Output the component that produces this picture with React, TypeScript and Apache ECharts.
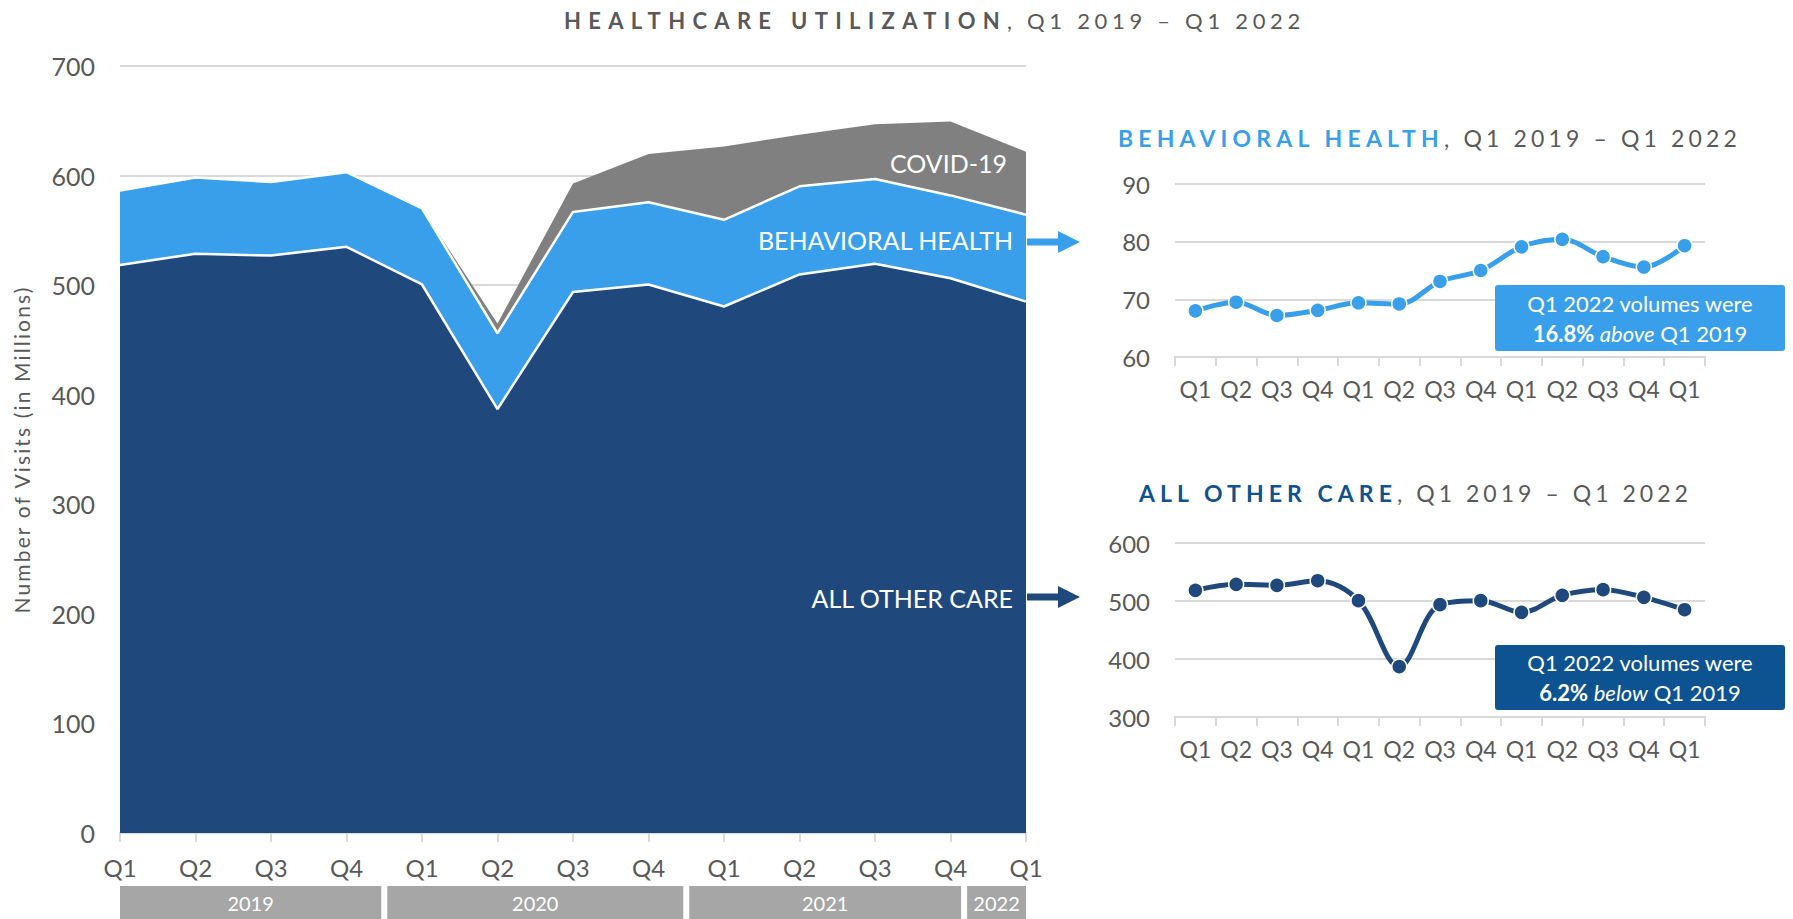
import React, { useEffect, useRef } from 'react';
import * as echarts from 'echarts';

const quarters = ['Q1', 'Q2', 'Q3', 'Q4', 'Q1', 'Q2', 'Q3', 'Q4', 'Q1', 'Q2', 'Q3', 'Q4', 'Q1'];
const years = ['2019', '2020', '2021', '2022'];
const yearSpans = [[0, 3.5], [3.5, 7.5], [7.5, 11.18], [11.18, 12]];
const allOtherCare = [518.4, 528.7, 527, 535, 500.6, 386.9, 493.7, 500.6, 480.5, 509.8, 519.5, 506.3, 485];
const behavioralHealth = [68.0, 69.5, 67.2, 68.1, 69.4, 69.2, 73.1, 75.0, 79.1, 80.4, 77.4, 75.6, 79.3];
const covid19 = [0, 0, 0, 0, 0, 9, 26, 44, 67, 47, 50, 67.5, 57.5];

const FONT = 'Lato, "Open Sans", sans-serif';
const GRAY_TEXT = '#595959';
const GRID_LINE = '#d9d9d9';
const NAVY = '#1f497d';
const LIGHT_BLUE = '#3a9fea';
const COVID_GRAY = '#808080';
const DARK_CALLOUT = '#0d5391';
const TITLE_BLUE_DARK = '#0f5290';
const PERIOD = ', Q1 2019 – Q1 2022';
const Y_NAME = 'Number of Visits (in Millions)';

const W = 1793;
const H = 919;
const MAIN = { left: 120, top: 66, width: 906, height: 767 };
const BH = { left: 1175, top: 184, width: 530, height: 173 };
const OC = { left: 1175, top: 543, width: 530, height: 174 };

// title pieces: text, left x, target width (tracked type)
const TITLE_PARTS = [
  { text: 'HEALTHCARE UTILIZATION', x: 564, w: 443, y: 20, size: 22, bold: true, color: GRAY_TEXT },
  { text: PERIOD, x: 1007, w: 298, y: 20, size: 22, bold: false, color: GRAY_TEXT },
  { text: 'BEHAVIORAL HEALTH', x: 1118, w: 326, y: 138, size: 23, bold: true, color: LIGHT_BLUE },
  { text: PERIOD, x: 1444, w: 297, y: 138, size: 23, bold: false, color: GRAY_TEXT },
  { text: 'ALL OTHER CARE', x: 1139, w: 258, y: 493, size: 23, bold: true, color: TITLE_BLUE_DARK },
  { text: PERIOD, x: 1397, w: 295, y: 493, size: 23, bold: false, color: GRAY_TEXT },
];

function arrow(x0: number, y: number, color: string) {
  const shaftEnd = x0 + 31;
  const tip = x0 + 53;
  return {
    type: 'polygon',
    z: 100,
    shape: {
      points: [
        [x0, y - 3.5], [shaftEnd, y - 3.5], [shaftEnd, y - 11], [tip, y],
        [shaftEnd, y + 11], [shaftEnd, y + 3.5], [x0, y + 3.5],
      ],
    },
    style: { fill: color },
  };
}

function callout(x: number, y: number, w: number, h: number, color: string, pct: string, dir: string) {
  const fs = 22;
  const lh = 30;
  return [
    { type: 'rect', z: 100, shape: { x, y, width: w, height: h, r: 3 }, style: { fill: color } },
    {
      type: 'text', z: 101, x: x + w / 2, y: y + h / 2,
      style: {
        text: 'Q1 2022 volumes were\n{b|' + pct + '} {i|' + dir + '} {n|Q1 2019}',
        fill: '#fff', fontSize: fs, fontFamily: FONT, align: 'center', verticalAlign: 'middle', lineHeight: lh,
        rich: {
          b: { fill: '#fff', fontSize: fs, fontFamily: FONT, fontWeight: 'bold', lineHeight: lh },
          i: { fill: '#fff', fontSize: fs, fontFamily: FONT, fontStyle: 'italic', lineHeight: lh },
          n: { fill: '#fff', fontSize: fs, fontFamily: FONT, lineHeight: lh },
        },
      },
    },
  ];
}

export default function App() {
  const ref = useRef<HTMLDivElement>(null);
  useEffect(() => {
    if (!ref.current) return;
    const chart = echarts.init(ref.current, undefined, { renderer: 'svg' });
    const step = MAIN.width / (quarters.length - 1);

    const yearGraphics: any[] = [];
    years.forEach((yr, i) => {
      const x0 = MAIN.left + yearSpans[i][0] * step + (i > 0 ? 3 : 0);
      const x1 = MAIN.left + yearSpans[i][1] * step - (i < years.length - 1 ? 3 : 0);
      yearGraphics.push({ type: 'rect', z: 100, shape: { x: x0, y: 886, width: x1 - x0, height: 33 }, style: { fill: '#a6a6a6' } });
      yearGraphics.push({
        type: 'text', z: 101, x: (x0 + x1) / 2, y: 903,
        style: { text: yr, fill: '#fff', fontSize: 20, fontFamily: FONT, align: 'center', verticalAlign: 'middle' },
      });
    });

    const titleGraphics = TITLE_PARTS.map((p) => ({
      type: 'text', z: 100, x: p.x, y: p.y,
      style: {
        text: p.text, fill: p.color, fontSize: p.size, fontFamily: FONT,
        fontWeight: p.bold ? 'bold' : 'normal', align: 'left', verticalAlign: 'middle',
      },
    }));

    const smallAxisX = (gridIndex: number) => ({
      type: 'category', gridIndex, data: quarters, boundaryGap: true,
      axisLine: { show: true, lineStyle: { color: GRID_LINE, width: 2 } },
      axisTick: { show: true, length: 9, lineStyle: { color: GRID_LINE, width: 2 } },
      axisLabel: { interval: 0, margin: 20, fontSize: 23, color: GRAY_TEXT, fontFamily: FONT },
    });
    const smallAxisY = (gridIndex: number, min: number, max: number, interval: number) => ({
      type: 'value', gridIndex, min, max, interval,
      axisLine: { show: false }, axisTick: { show: false },
      splitLine: { lineStyle: { color: GRID_LINE, width: 2 } },
      axisLabel: { margin: 25, fontSize: 24, color: GRAY_TEXT, fontFamily: FONT },
    });

    chart.setOption({
      animation: false,
      grid: [
        { ...MAIN, containLabel: false, outerBoundsMode: 'none' },
        { ...BH, containLabel: false, outerBoundsMode: 'none' },
        { ...OC, containLabel: false, outerBoundsMode: 'none' },
      ],
      xAxis: [
        {
          type: 'category', gridIndex: 0, data: quarters, boundaryGap: false,
          axisLine: { show: true, lineStyle: { color: GRID_LINE, width: 2 } },
          axisTick: { show: true, length: 9, lineStyle: { color: GRID_LINE, width: 2 } },
          axisLabel: { interval: 0, margin: 22, fontSize: 24, color: GRAY_TEXT, fontFamily: FONT },
        },
        smallAxisX(1),
        smallAxisX(2),
      ],
      yAxis: [
        {
          type: 'value', gridIndex: 0, min: 0, max: 700, interval: 100,
          name: Y_NAME, nameLocation: 'middle', nameGap: 88,
          nameTextStyle: { fontSize: 21, color: GRAY_TEXT, fontFamily: FONT },
          axisLine: { show: false }, axisTick: { show: false },
          splitLine: { lineStyle: { color: GRID_LINE, width: 2 } },
          axisLabel: { margin: 25, fontSize: 25, color: GRAY_TEXT, fontFamily: FONT },
        },
        smallAxisY(1, 60, 90, 10),
        smallAxisY(2, 300, 600, 100),
      ],
      series: [
        {
          name: 'All Other Care', type: 'line', stack: 'total', xAxisIndex: 0, yAxisIndex: 0,
          data: allOtherCare, symbol: 'none',
          lineStyle: { color: '#ffffff', width: 2.5 }, areaStyle: { color: NAVY, opacity: 1 },
        },
        {
          name: 'Behavioral Health', type: 'line', stack: 'total', xAxisIndex: 0, yAxisIndex: 0,
          data: behavioralHealth, symbol: 'none',
          lineStyle: { color: '#ffffff', width: 2.5 }, areaStyle: { color: LIGHT_BLUE, opacity: 1 },
        },
        {
          name: 'COVID-19', type: 'line', stack: 'total', xAxisIndex: 0, yAxisIndex: 0,
          data: covid19, symbol: 'none',
          lineStyle: { color: COVID_GRAY, width: 0 }, areaStyle: { color: COVID_GRAY, opacity: 1 },
        },
        {
          name: 'Behavioral Health Trend', type: 'line', xAxisIndex: 1, yAxisIndex: 1,
          data: behavioralHealth, smooth: 0.35, symbol: 'circle', symbolSize: 15,
          lineStyle: { color: LIGHT_BLUE, width: 5 },
          itemStyle: { color: LIGHT_BLUE, borderColor: '#fff', borderWidth: 1.5 },
        },
        {
          name: 'All Other Care Trend', type: 'line', xAxisIndex: 2, yAxisIndex: 2,
          data: allOtherCare, smooth: 0.35, symbol: 'circle', symbolSize: 15,
          lineStyle: { color: NAVY, width: 5 },
          itemStyle: { color: NAVY, borderColor: '#fff', borderWidth: 1.5 },
        },
      ],
      graphic: [
        ...titleGraphics,
        {
          type: 'text', z: 100, x: 1007, y: 163,
          style: { text: 'COVID-19', fill: '#fff', fontSize: 25, fontFamily: FONT, align: 'right', verticalAlign: 'middle' },
        },
        {
          type: 'text', z: 100, x: 1013, y: 240,
          style: { text: 'BEHAVIORAL HEALTH', fill: '#fff', fontSize: 25, fontFamily: FONT, align: 'right', verticalAlign: 'middle' },
        },
        {
          type: 'text', z: 100, x: 1013, y: 598,
          style: { text: 'ALL OTHER CARE', fill: '#fff', fontSize: 25, fontFamily: FONT, align: 'right', verticalAlign: 'middle' },
        },
        arrow(1027, 242, LIGHT_BLUE),
        arrow(1027, 597, NAVY),
        ...callout(1495, 285, 290, 66, LIGHT_BLUE, '16.8%', 'above'),
        ...callout(1495, 645, 290, 65, DARK_CALLOUT, '6.2%', 'below'),
        ...yearGraphics,
      ],
    });

    // apply tracking (letter spacing) to the title texts and the axis name, as in the original typography
    try {
      const texts = ref.current.querySelectorAll('text');
      texts.forEach((node) => {
        const t = node as SVGTextElement;
        const content = t.textContent || '';
        const rect = t.getBoundingClientRect();
        const cy = rect.top + rect.height / 2;
        let target: number | null = null;
        const match = TITLE_PARTS.find(
          (p) => p.text === content && Math.abs(p.x - rect.left) < 30 && Math.abs(p.y - cy) < 25,
        );
        if (match) {
          target = match.w;
        } else if (content === Y_NAME) {
          target = 328;
        }
        if (target !== null) {
          const natural = t.getComputedTextLength();
          const ls = (target - natural) / content.length;
          if (ls > 0 && isFinite(ls)) t.setAttribute('letter-spacing', ls.toFixed(2) + 'px');
        }
      });
    } catch (e) {
      // ignore
    }

    return () => chart.dispose();
  }, []);

  return <div ref={ref} style={{ position: 'fixed', left: 0, top: 0, width: W, height: H, background: '#fff' }} />;
}
